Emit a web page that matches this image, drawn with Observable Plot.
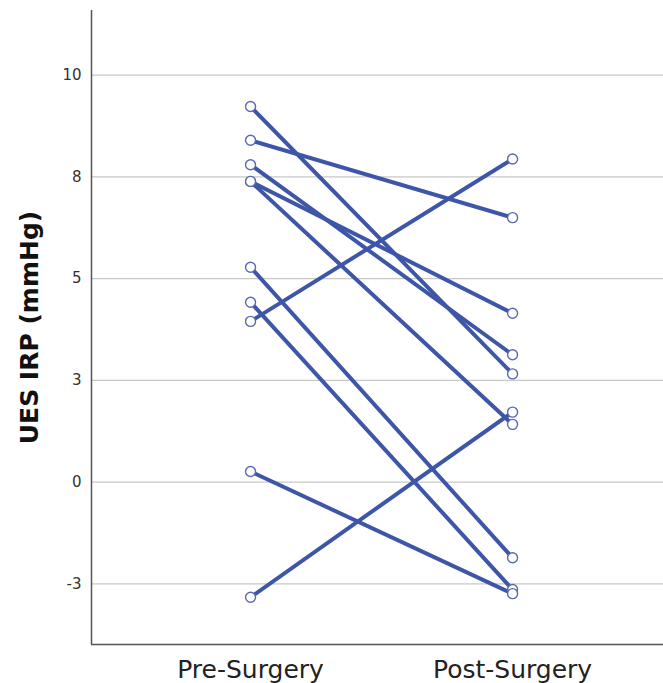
<!DOCTYPE html>
<html><head><meta charset="utf-8">
<script src="https://cdn.jsdelivr.net/npm/d3@7"></script>
<script src="https://cdn.jsdelivr.net/npm/@observablehq/plot@0.6"></script>
<style>body{margin:0;background:#fff}</style>
</head><body><div id="chart"></div>
<script>
const timepoints = ["Pre-Surgery", "Post-Surgery"];
const preValues  = [9.23, 8.40, 7.80, 7.39, 7.39, 5.28, 4.42, 3.95, 0.26, -2.83];
const postValues = [2.66, 6.50, 3.13, 4.15, 1.42, -1.86, -2.64, 7.94, -2.74, 1.72];
const yTicks = [-2.5, 0, 2.5, 5, 7.5, 10];
const yTickLabels = ["-3", "0", "3", "5", "8", "10"];
const yLabel = "UES IRP (mmHg)";
const yDomain = [-3.99, 11.59];
const xDomain = [-0.607, 1.576];

const pairs = preValues.map((v, i) => ({pre: v, post: postValues[i]}));
const points = [
  ...preValues.map(v => ({t: 0, v})),
  ...postValues.map(v => ({t: 1, v}))
];

const chart = Plot.plot({
  width: 663,
  height: 683,
  marginLeft: 91,
  marginRight: 0,
  marginTop: 10,
  marginBottom: 39,
  style: {fontFamily: "DejaVu Sans", color: "#222", background: "#fff"},
  x: {domain: xDomain, axis: null},
  y: {domain: yDomain, axis: null},
  marks: [
    Plot.gridY(yTicks, {stroke: "#c8c8c8", strokeOpacity: 1, strokeWidth: 1.3}),
    Plot.link(pairs, {x1: () => 0, x2: () => 1, y1: "pre", y2: "post",
      stroke: "#3e56a8", strokeWidth: 4, strokeLinecap: "round"}),
    Plot.dot(points, {x: "t", y: "v", r: 5, fill: "#fff", stroke: "#5a68b2", strokeWidth: 1.4}),
    Plot.ruleX([xDomain[0]], {stroke: "#555", strokeWidth: 1.5}),
    Plot.ruleY([yDomain[0]], {stroke: "#555", strokeWidth: 1.5}),
    Plot.axisY(yTicks, {tickSize: 0, tickPadding: 10, fontSize: 15, fill: "#333",
      tickFormat: d => yTickLabels[yTicks.indexOf(d)], label: null}),
    Plot.axisX([0, 1], {tickSize: 0, tickPadding: 16, fontSize: 25, fill: "#222",
      tickFormat: d => timepoints[d], label: null}),
    Plot.text([yLabel], {frameAnchor: "left", textAnchor: "middle", rotate: -90, dx: -62,
      fontSize: 25, fontWeight: "bold", fill: "#111"})
  ]
});
document.getElementById("chart").appendChild(chart);
</script>
</body></html>
